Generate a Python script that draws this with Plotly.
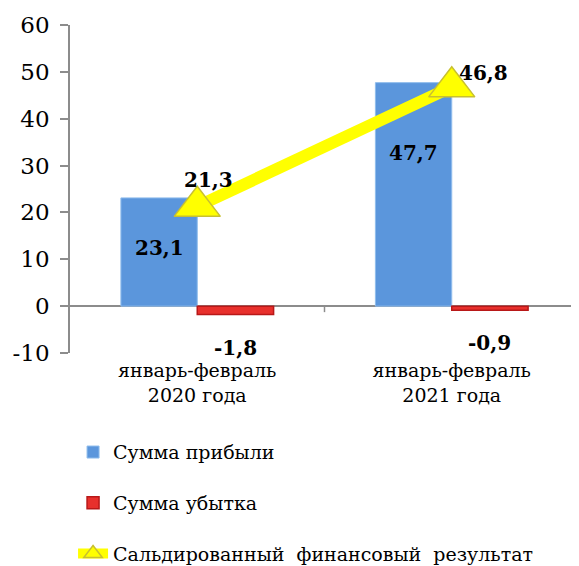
import plotly.graph_objects as go

categories = ["январь-февраль<br>2020 года", "январь-февраль<br>2021 года"]
profit = [23.1, 47.7]
loss = [-1.8, -0.9]
balance = [21.3, 46.8]
profit_labels = ["23,1", "47,7"]
loss_labels = ["-1,8", "-0,9"]
balance_labels = ["21,3", "46,8"]
y_ticks = [-10, 0, 10, 20, 30, 40, 50, 60]
y_tick_text = ["-10", "0", "10", "20", "30", "40", "50", "60"]

SERIF = "DejaVu Serif"

fig = go.Figure()
fig.add_trace(go.Bar(
    x=categories, y=profit, name="Сумма прибыли",
    marker=dict(color="#5b96dc", line=dict(color="#8fbcec", width=1)),
    legendgroup="a",
))
fig.add_trace(go.Bar(
    x=categories, y=loss, name="Сумма убытка",
    marker=dict(color="#e8302c", line=dict(color="#b81818", width=1.5)),
    legendgroup="b",
))
fig.add_trace(go.Scatter(
    x=categories, y=balance, name="Сальдированный  финансовый  результат",
    mode="lines+markers",
    line=dict(color="#ffff00", width=12),
    marker=dict(symbol="triangle-up", size=40, color="#ffff00",
                line=dict(color="#c8c030", width=1.5)),
    legendgroup="c",
))

ann = []
ann.append(dict(x=categories[0], y=profit[0], text=profit_labels[0], xshift=-38, yshift=-50))
ann.append(dict(x=categories[1], y=profit[1], text=profit_labels[1], xshift=-38, yshift=-70))
for c, v, t in zip(categories, loss, loss_labels):
    ann.append(dict(x=c, y=v, text=t, xshift=38, yshift=-33))
ann.append(dict(x=categories[0], y=balance[0], text=balance_labels[0], xshift=11, yshift=26))
ann.append(dict(x=categories[1], y=balance[1], text=balance_labels[1], xshift=32, yshift=14))
for a in ann:
    a.update(xref="x", yref="y", showarrow=False,
             font=dict(family=SERIF, size=20, color="black"))
    a["text"] = "<b>" + a["text"] + "</b>"

fig.update_layout(
    width=571, height=558,
    margin=dict(l=62, r=0, t=17, b=213),
    paper_bgcolor="white", plot_bgcolor="white",
    barmode="group", bargap=0.40, bargroupgap=0,
    annotations=ann,
    font=dict(family=SERIF, color="black"),
    legend=dict(
        xref="paper", yref="container",
        x=0.006, xanchor="left", y=0.238, yanchor="top",
        font=dict(family=SERIF, size=19, color="black"),
        tracegroupgap=23, bgcolor="rgba(0,0,0,0)",
    ),
    xaxis=dict(
        showline=False, showgrid=False, ticks="",
        tickfont=dict(family=SERIF, size=19),
        ticklabelstandoff=4, automargin=False,
    ),
    yaxis=dict(
        range=[-10, 60], tickvals=y_ticks, ticktext=y_tick_text, showgrid=False,
        showline=True, linecolor="#8c8c8c", linewidth=1.5,
        ticks="outside", ticklen=8, tickcolor="#8c8c8c", tickwidth=1.5,
        zeroline=True, zerolinecolor="#8c8c8c", zerolinewidth=1.5,
        tickfont=dict(family=SERIF, size=23),
        ticklabelstandoff=6, automargin=False,
    ),
    shapes=[dict(type="line", xref="x", yref="y", x0=0.5, x1=0.5,
                 ysizemode="pixel", yanchor=0, y0=0, y1=-6,
                 line=dict(color="#8c8c8c", width=1.5))],
)

fig.write_html("out.html")
